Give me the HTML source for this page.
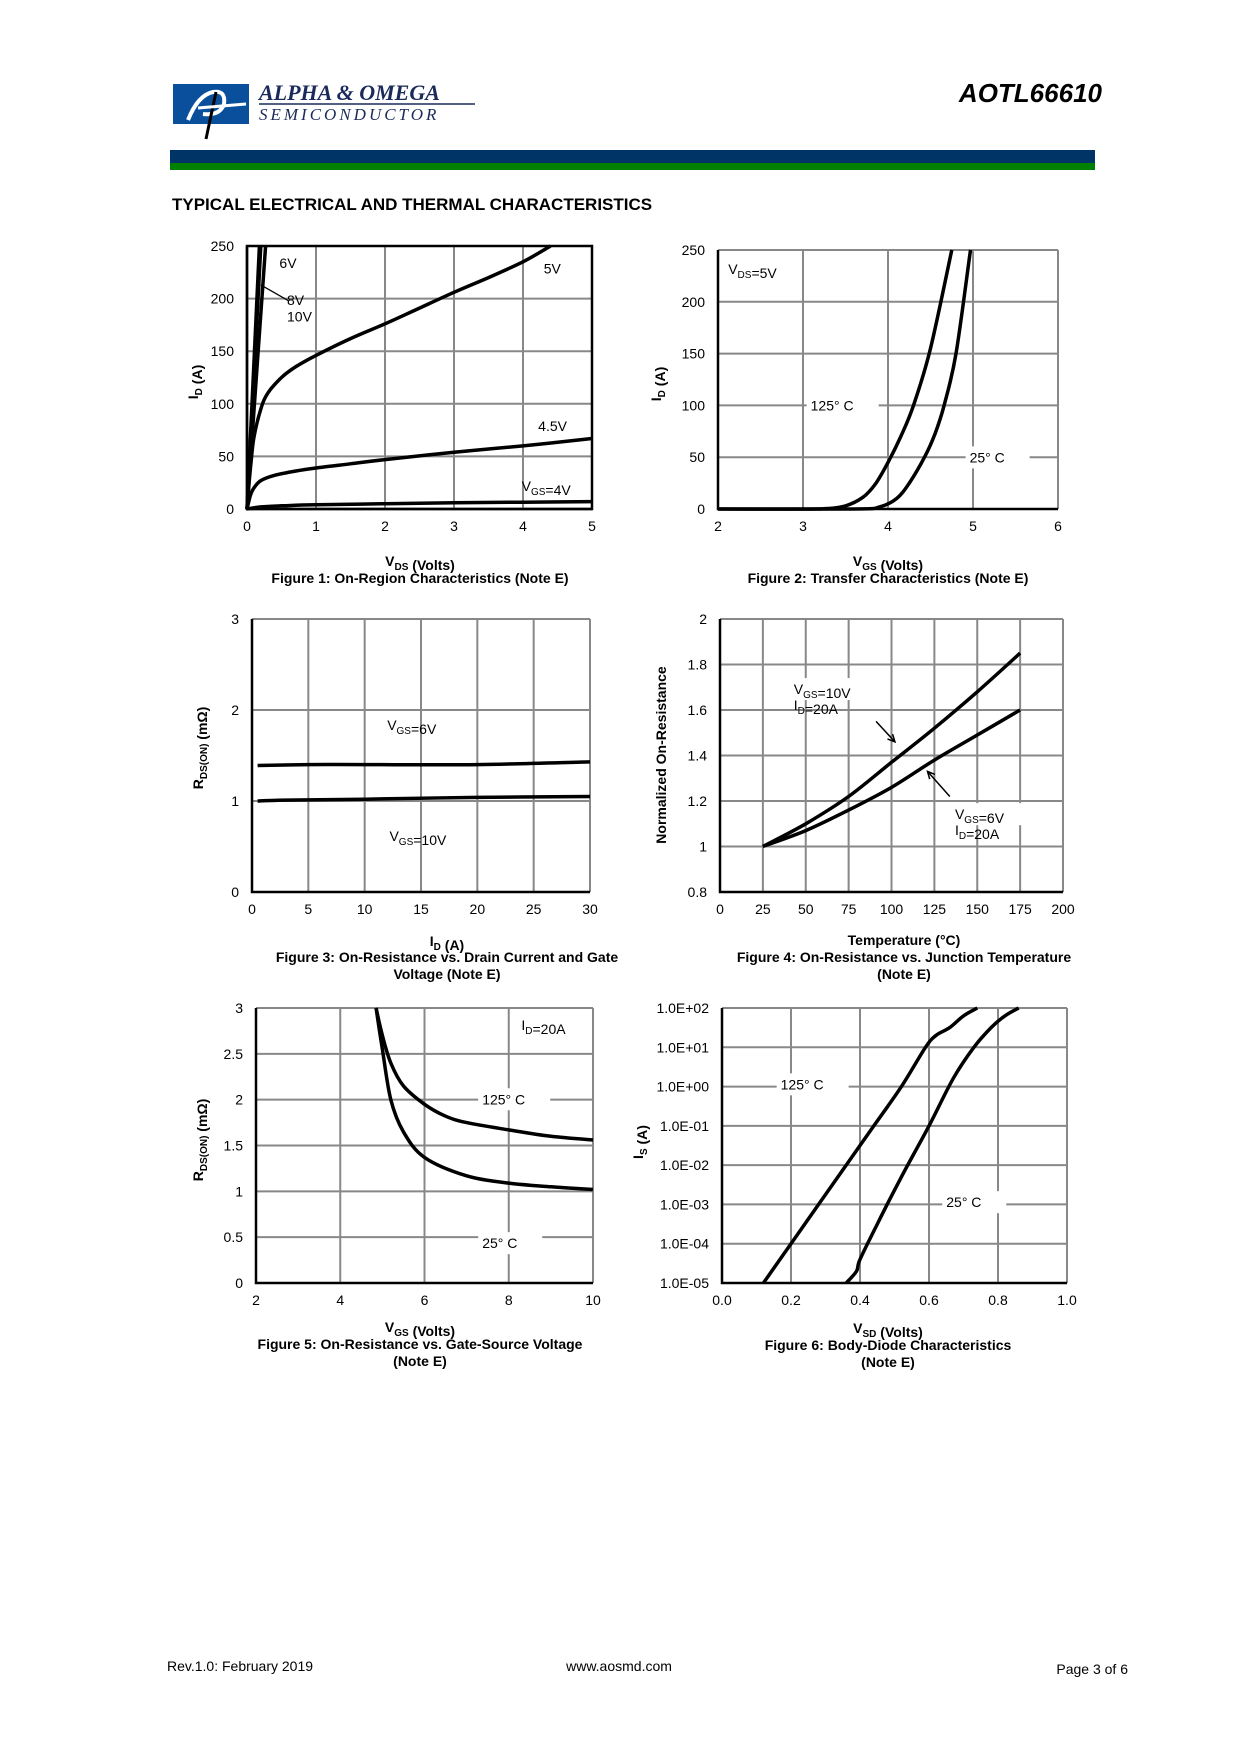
<!DOCTYPE html>
<html><head><meta charset="utf-8"><style>
html,body{margin:0;padding:0;background:#fff;}
svg{display:block;font-family:"Liberation Sans",Arial,sans-serif;}
</style></head><body>
<svg id="pg" width="1240" height="1754" viewBox="0 0 1240 1754" xmlns="http://www.w3.org/2000/svg">
<g>
<rect x="173" y="84" width="76" height="40" fill="#0a4f9c"/>
<path d="M188 120 Q198 95 213 92 Q226 90 224 104 Q220 116 203 114" stroke="#fff" stroke-width="4" fill="none"/>
<path d="M216 92 L206 139" stroke="#000" stroke-width="3"/>
<path d="M198 108 L246 104" stroke="#fff" stroke-width="3"/>
<text x="259" y="100" font-family="Liberation Serif" font-style="italic" font-weight="bold" font-size="22" fill="#1a2a5a">ALPHA &amp; OMEGA</text>
<line x1="259" y1="104" x2="475" y2="104" stroke="#1a2a5a" stroke-width="1.5"/>
<text x="259" y="120" font-family="Liberation Serif" font-style="italic" font-size="17" letter-spacing="3" fill="#1a2a5a">SEMICONDUCTOR</text>
</g>
<text x="1102" y="102" text-anchor="end" font-weight="bold" font-style="italic" font-size="26">AOTL66610</text>
<rect x="170" y="150" width="925" height="13" fill="#003366"/>
<rect x="170" y="163" width="925" height="7" fill="#008000"/>
<text x="172" y="210" font-weight="bold" font-size="17">TYPICAL ELECTRICAL AND THERMAL CHARACTERISTICS</text>
<text x="167" y="1671" font-size="14">Rev.1.0: February 2019</text>
<text x="619" y="1671" font-size="14" text-anchor="middle">www.aosmd.com</text>
<text x="1128" y="1674" font-size="14" text-anchor="end">Page 3 of 6</text>
</svg>
<script>
// Figure 1 data
const f1XTicks=[0,1,2,3,4,5];
const f1YTicks=[0,50,100,150,200,250];
const f1Vgs10X=[0,0.18];const f1Vgs10Y=[0,250];
const f1Vgs8X=[0,0.2];const f1Vgs8Y=[0,250];
const f1Vgs6X=[0,0.27];const f1Vgs6Y=[0,250];
const f1Vgs5X=[0,0.03,0.06,0.1,0.2,0.3,0.5,0.7,1,1.5,2,2.5,3,3.5,4,4.4];
const f1Vgs5Y=[0,25,45,68,95,110,125,135,146,162,176,191,206,220,235,250];
const f1Vgs45X=[0,0.05,0.1,0.2,0.4,0.7,1,1.5,2,3,4,5];
const f1Vgs45Y=[0,13,20,27,32,36,39,43,47,54,60,67];
const f1Vgs4X=[0,0.2,0.5,1,2,3,4,5];
const f1Vgs4Y=[0,2,3,4,5,6,6.5,7];
// Figure 2 data
const f2XTicks=[2,3,4,5,6];
const f2YTicks=[0,50,100,150,200,250];
const f2T125X=[2,3,3.3,3.5,3.7,3.85,4.0,4.15,4.3,4.5,4.75];
const f2T125Y=[0,0,0.5,3,11,24,45,70,100,155,250];
const f2T25X=[2,3.6,3.9,4.1,4.25,4.43,4.55,4.66,4.8,4.97];
const f2T25Y=[0,0,2,10,25,50,72,100,150,250];
// Figure 3 data
const f3XTicks=[0,5,10,15,20,25,30];
const f3YTicks=[0,1,2,3];
const f3Vgs6X=[0.5,5,10,20,30];const f3Vgs6Y=[1.39,1.40,1.40,1.40,1.43];
const f3Vgs10X=[0.5,3,10,20,30];const f3Vgs10Y=[1.0,1.01,1.02,1.04,1.05];
// Figure 4 data
const f4XTicks=[0,25,50,75,100,125,150,175,200];
const f4YTicks=[0.8,1,1.2,1.4,1.6,1.8,2];
const f4Vgs10X=[25,50,75,100,125,150,175];const f4Vgs10Y=[1,1.1,1.22,1.37,1.52,1.68,1.85];
const f4Vgs6X=[25,50,75,100,125,150,175];const f4Vgs6Y=[1,1.07,1.16,1.26,1.38,1.49,1.6];
// Figure 5 data
const f5XTicks=[2,4,6,8,10];
const f5YTicks=[0,0.5,1,1.5,2,2.5,3];
const f5T25X=[4.85,5,5.2,5.5,6,7,8,9,10];const f5T25Y=[3,2.55,2.0,1.65,1.37,1.17,1.09,1.05,1.02];
const f5T125X=[4.85,5,5.2,5.5,6,6.5,7,8,9,10];const f5T125Y=[3,2.7,2.4,2.15,1.95,1.82,1.75,1.67,1.6,1.56];
// Figure 6 data (log10 of Is)
const f6XTicks=[0,0.2,0.4,0.6,0.8,1.0];
const f6YTicks=[-5,-4,-3,-2,-1,0,1,2];
const f6YLabels=["1.0E-05","1.0E-04","1.0E-03","1.0E-02","1.0E-01","1.0E+00","1.0E+01","1.0E+02"];
const f6T125X=[0.12,0.2,0.28,0.36,0.44,0.52,0.59,0.62,0.66,0.7,0.74];
const f6T125Y=[-5,-4,-3,-2,-1,0,1,1.3,1.5,1.8,2];
const f6T25X=[0.36,0.39,0.4,0.45,0.52,0.6,0.67,0.73,0.78,0.82,0.86];
const f6T25Y=[-5,-4.7,-4.4,-3.5,-2.3,-1,0.2,1,1.5,1.8,2];

const NS="http://www.w3.org/2000/svg";
const pg=document.getElementById('pg');
function mk(tag,attrs,parent){const e=document.createElementNS(NS,tag);for(const k in attrs)e.setAttribute(k,attrs[k]);(parent||pg).appendChild(e);return e;}
function axis(x0,x1,y0,y1,xmin,xmax,ymin,ymax){return{sx:v=>x0+(v-xmin)/(xmax-xmin)*(x1-x0),sy:v=>y1-(v-ymin)/(ymax-ymin)*(y1-y0),x0,x1,y0,y1};}
function frame(g,a,xt,yt,ylab,xfmt,yfmt){
  xt.forEach(v=>{const l=mk('line',{x1:a.sx(v),x2:a.sx(v),y1:a.y0,y2:a.y1,stroke:'#888','stroke-width':2},g);
    
    
    const t=mk('text',{x:a.sx(v),y:a.y1+22,'text-anchor':'middle','font-size':14},g);t.textContent=xfmt?xfmt(v):v;
    
    });
  yt.forEach((v,i)=>{const l=mk('line',{x1:a.x0,x2:a.x1,y1:a.sy(v),y2:a.sy(v),stroke:'#888','stroke-width':2},g);
    
    
    const t=mk('text',{x:a.x0-13,y:a.sy(v)+5,'text-anchor':'end','font-size':14},g);t.textContent=ylab?ylab[i]:(yfmt?yfmt(v):v);
    
    });
  const b=mk('path',{d:`M${a.x0} ${a.y0} L${a.x0} ${a.y1} L${a.x1} ${a.y1}`,stroke:'#000','stroke-width':2.5,fill:'none'},g);
  
  
}
function series(g,a,xs,ys,name){
  const P=xs.map((x,i)=>[a.sx(x),a.sy(ys[i])]);
  let d='M'+P[0][0].toFixed(1)+' '+P[0][1].toFixed(1);
  for(let i=0;i<P.length-1;i++){const p0=P[Math.max(0,i-1)],p1=P[i],p2=P[i+1],p3=P[Math.min(P.length-1,i+2)];
    const c1=[p1[0]+(p2[0]-p0[0])/6,p1[1]+(p2[1]-p0[1])/6],c2=[p2[0]-(p3[0]-p1[0])/6,p2[1]-(p3[1]-p1[1])/6];
    d+=` C${c1[0].toFixed(1)} ${c1[1].toFixed(1)} ${c2[0].toFixed(1)} ${c2[1].toFixed(1)} ${p2[0].toFixed(1)} ${p2[1].toFixed(1)}`;}
  const p=mk('path',{d,stroke:'#000','stroke-width':3.5,fill:'none','stroke-linejoin':'round'},g);
  
  }
function label(g,x,y,html,bg,name,anchor){
  if(bg){const r=mk('rect',{x:x-4,y:y-16,width:bg,height:22,fill:'#fff'},g);}
  const t=mk('text',{x,y,'font-size':14,'text-anchor':anchor||'start'},g);t.innerHTML=html;
  
  }
function txt(g,x,y,html,opts,name){const t=mk('text',Object.assign({x,y,'font-size':14,'font-weight':'bold','text-anchor':'middle'},opts||{}),g);t.innerHTML=html;
  
  }
const sub=s=>`<tspan font-size="10" dy="4">${s}</tspan><tspan dy="-4"></tspan>`;
function grp(name){const g=mk('g',{});return g;}
function arrow(g,x1,y1,x2,y2,name){const ang=Math.atan2(y2-y1,x2-x1),h=8;
  const d=`M${x1} ${y1} L${x2} ${y2} M${x2-h*Math.cos(ang-0.45)} ${y2-h*Math.sin(ang-0.45)} L${x2} ${y2} L${x2-h*Math.cos(ang+0.45)} ${y2-h*Math.sin(ang+0.45)}`;
  const p=mk('path',{d,stroke:'#000','stroke-width':1.5,fill:'none'},g);
  
  }

// Fig 1
let g=grp('figure-1'),a=axis(247,592,246,509,0,5,0,250);
frame(g,a,f1XTicks,f1YTicks);
mk('rect',{x:a.x0,y:a.y0,width:a.x1-a.x0,height:a.y1-a.y0,fill:'none',stroke:'#000','stroke-width':2.5},g);
series(g,a,f1Vgs10X,f1Vgs10Y,'line-vgs-10v');series(g,a,f1Vgs8X,f1Vgs8Y,'line-vgs-8v');series(g,a,f1Vgs6X,f1Vgs6Y,'line-vgs-6v');
series(g,a,f1Vgs5X,f1Vgs5Y,'line-vgs-5v');series(g,a,f1Vgs45X,f1Vgs45Y,'line-vgs-4-5v');series(g,a,f1Vgs4X,f1Vgs4Y,'line-vgs-4v');
mk('line',{x1:a.sx(0.2),y1:a.sy(213),x2:a.sx(0.6),y2:a.sy(198),stroke:'#000','stroke-width':1.2},g);
label(g,a.sx(0.47),a.sy(229),'6V',0,'label-6v');label(g,a.sx(0.58),a.sy(194),'8V',0,'label-8v');label(g,a.sx(0.58),a.sy(178),'10V',0,'label-10v');
label(g,a.sx(4.3),a.sy(224),'5V',0,'label-5v');label(g,a.sx(4.22),a.sy(74),'4.5V',0,'label-4-5v');label(g,a.sx(3.98),a.sy(17),'V'+sub('GS')+'=4V',0,'label-4v');
txt(g,420,566,'V'+sub('DS')+' (Volts)',{},'x-axis-title');txt(g,420,583,'Figure 1: On-Region Characteristics (Note E)',{},'figure-caption');
txt(g,0,0,'I'+sub('D')+' (A)',{transform:'translate(198,382) rotate(-90)'},'y-axis-title');

// Fig 2
g=grp('figure-2');a=axis(718,1058,250,509,2,6,0,250);
frame(g,a,f2XTicks,f2YTicks);
series(g,a,f2T125X,f2T125Y,'line-125c');series(g,a,f2T25X,f2T25Y,'line-25c');
label(g,a.sx(2.12),a.sy(227),'V'+sub('DS')+'=5V',0,'label-vds');
label(g,a.sx(3.09),a.sy(95),'125° C',72,'label-125c');label(g,a.sx(4.96),a.sy(45),'25° C',64,'label-25c');
txt(g,888,566,'V'+sub('GS')+' (Volts)',{},'x-axis-title');txt(g,888,583,'Figure 2: Transfer Characteristics (Note E)',{},'figure-caption');
txt(g,0,0,'I'+sub('D')+' (A)',{transform:'translate(661,384) rotate(-90)'},'y-axis-title');

// Fig 3
g=grp('figure-3');a=axis(252,590,619,892,0,30,0,3);
frame(g,a,f3XTicks,f3YTicks);
series(g,a,f3Vgs6X,f3Vgs6Y,'line-vgs-6v');series(g,a,f3Vgs10X,f3Vgs10Y,'line-vgs-10v');
label(g,a.sx(12),a.sy(1.78),'V'+sub('GS')+'=6V',0,'label-6v');label(g,a.sx(12.2),a.sy(0.56),'V'+sub('GS')+'=10V',0,'label-10v');
txt(g,447,946,'I'+sub('D')+' (A)',{},'x-axis-title');txt(g,447,962,'Figure 3: On-Resistance vs. Drain Current and Gate',{},'figure-caption');txt(g,447,979,'Voltage (Note E)',{},'figure-caption-2');
txt(g,0,0,'R'+sub('DS(ON)')+' (mΩ)',{transform:'translate(203,748) rotate(-90)'},'y-axis-title');

// Fig 4
g=grp('figure-4');a=axis(720,1063,619,892,0,200,0.8,2);
frame(g,a,f4XTicks,f4YTicks);
series(g,a,f4Vgs10X,f4Vgs10Y,'line-vgs-10v');series(g,a,f4Vgs6X,f4Vgs6Y,'line-vgs-6v');
label(g,a.sx(43),a.sy(1.67),'V'+sub('GS')+'=10V',84,'label-10v');label(g,a.sx(43),a.sy(1.6),'I'+sub('D')+'=20A',0,'label-10v-id');
label(g,a.sx(137),a.sy(1.12),'V'+sub('GS')+'=6V',76,'label-6v');label(g,a.sx(137),a.sy(1.05),'I'+sub('D')+'=20A',0,'label-6v-id');
arrow(g,a.sx(91),a.sy(1.55),a.sx(102),a.sy(1.46),'arrow-10v');
arrow(g,a.sx(134),a.sy(1.22),a.sx(121),a.sy(1.33),'arrow-6v');
txt(g,904,945,'Temperature (°C)',{},'x-axis-title');txt(g,904,962,'Figure 4: On-Resistance vs. Junction Temperature',{},'figure-caption');txt(g,904,979,'(Note E)',{},'figure-caption-2');
txt(g,0,0,'Normalized On-Resistance',{transform:'translate(666,755) rotate(-90)'},'y-axis-title');

// Fig 5
g=grp('figure-5');a=axis(256,593,1008,1283,2,10,0,3);
frame(g,a,f5XTicks,f5YTicks);
series(g,a,f5T125X,f5T125Y,'line-125c');series(g,a,f5T25X,f5T25Y,'line-25c');
label(g,a.sx(8.3),a.sy(2.76),'I'+sub('D')+'=20A',0,'label-id');
label(g,a.sx(7.37),a.sy(1.95),'125° C',72,'label-125c');label(g,a.sx(7.37),a.sy(0.38),'25° C',64,'label-25c');
txt(g,420,1332,'V'+sub('GS')+' (Volts)',{},'x-axis-title');txt(g,420,1349,'Figure 5: On-Resistance vs. Gate-Source Voltage',{},'figure-caption');txt(g,420,1366,'(Note E)',{},'figure-caption-2');
txt(g,0,0,'R'+sub('DS(ON)')+' (mΩ)',{transform:'translate(203,1140) rotate(-90)'},'y-axis-title');

// Fig 6
g=grp('figure-6');a=axis(722,1067,1008,1283,0,1,-5,2);
frame(g,a,f6XTicks,f6YTicks,f6YLabels,v=>v.toFixed(1));
series(g,a,f6T125X,f6T125Y,'line-125c');series(g,a,f6T25X,f6T25Y,'line-25c');
label(g,a.sx(0.17),a.sy(-0.07),'125° C',72,'label-125c');label(g,a.sx(0.65),a.sy(-3.07),'25° C',64,'label-25c');
txt(g,888,1333,'V'+sub('SD')+' (Volts)',{},'x-axis-title');txt(g,888,1350,'Figure 6: Body-Diode Characteristics',{},'figure-caption');txt(g,888,1367,'(Note E)',{},'figure-caption-2');
txt(g,0,0,'I'+sub('S')+' (A)',{transform:'translate(643,1142) rotate(-90)'},'y-axis-title');
</script>
</body></html>
